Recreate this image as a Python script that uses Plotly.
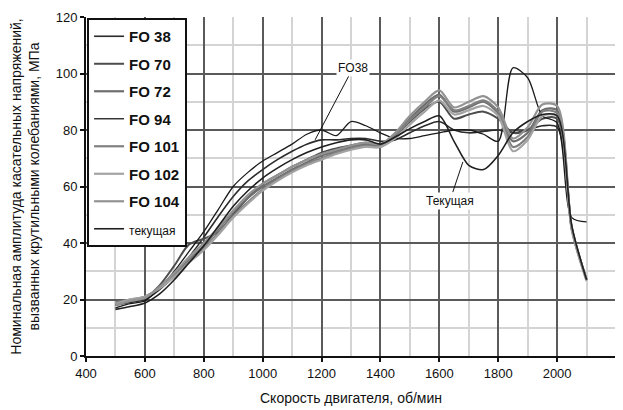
import plotly.graph_objects as go

rpm = [500, 550, 600, 650, 700, 750, 800, 850, 900, 950, 1000, 1050, 1100, 1150,
       1200, 1250, 1300, 1350, 1400, 1450, 1500, 1550, 1600, 1650, 1700, 1750,
       1800, 1850, 1900, 1950, 2000, 2050, 2100]

fo38 = [18, 19, 20, 23.5, 28.5, 35, 42, 49.5, 56.5, 62, 66, 69.5, 72.5, 75, 76.5, 76.5,
        77, 77, 76, 76.5, 79, 81.5, 83, 80, 79, 79.5, 80, 79, 80, 81.5, 81, 45, 27]
fo70 = [18.5, 19.5, 20.5, 25, 32, 39.5, 41.5, 44, 50, 56, 61, 64, 67, 69.5, 72, 73.5,
        74.5, 75.5, 74.5, 78, 83, 87.5, 90, 84, 85.5, 86.5, 84, 79, 80, 84, 84, 45.5, 27]
fo72 = [18, 19.5, 21, 24, 29, 34, 39, 45, 51, 56, 60, 63, 66, 68.5, 71, 72.5,
        74, 75, 74.5, 78.5, 84, 89, 92.5, 86.5, 88, 90, 86, 76, 79, 87, 87, 45, 27]
fo94 = [17, 18.5, 19.5, 24, 30, 37, 44, 52, 60, 65, 69, 72, 75, 78.5, 80, 78,
        83, 81.5, 79, 77, 77, 78, 79, 80, 80, 78.5, 76, 102, 98.5, 85, 82.5, 49, 47.5]
fo101 = [19, 20, 21, 24, 28.5, 33.5, 38, 43.5, 49.5, 54.5, 59, 62.5, 65.5, 68, 70, 72,
         73.5, 74.5, 74, 78, 83.5, 88, 92, 87, 88.5, 90.5, 86.5, 74, 77.5, 86.5, 86, 45, 27]
fo102 = [18.5, 20, 21, 24, 28, 33, 37.5, 43, 49, 54, 58.5, 62, 65, 67.5, 69.5, 71.5,
         73, 74, 74, 77, 82, 86.5, 90.5, 85.5, 87, 88.5, 85, 72.5, 76.5, 85, 85, 44.5, 26.5]
fo104 = [18, 19.5, 20.5, 24.5, 29.5, 35, 40, 45.5, 51.5, 57, 61, 64, 67, 69.5, 71.5, 73,
         74.5, 75.5, 75, 79, 85, 90, 94, 88, 90, 92, 88, 77, 81, 89, 88.5, 45, 27]
current = [16.5, 17.5, 18.8, 22, 27, 33, 39, 46, 53, 58.5, 63, 66.5, 69.5, 72, 74, 75.5,
           76.5, 76.5, 75, 77.5, 80.5, 83, 85, 76, 67.5, 66, 71, 79, 83, 85.5, 85, 46, 27]

series_names = ["FO 38", "FO 70", "FO 72", "FO 94", "FO 101", "FO 102", "FO 104", "текущая"]
series_values = [fo38, fo70, fo72, fo94, fo101, fo102, fo104, current]
series_colors = ["#2b2b2b", "#4d4d4d", "#6e6e6e", "#1a1a1a", "#808080", "#a3a3a3", "#939393", "#202020"]
series_widths = [1.6, 2.0, 2.2, 1.3, 2.2, 2.2, 2.2, 1.6]

FONT = "Liberation Sans, Arial, sans-serif"

fig = go.Figure()
for name, vals, col, w in zip(series_names, series_values, series_colors, series_widths):
    label = f"<b>{name}</b>" if name.startswith("FO") else f"<span style='font-size:12px'>{name}</span>"
    fig.add_trace(go.Scatter(
        x=rpm, y=vals, mode="lines", name=label, legendgroup=name,
        line=dict(color=col, width=w, shape="spline", smoothing=0.8),
    ))

fig.add_annotation(x=1178, y=76.5, ax=1307, ay=102, axref="x", ayref="y",
                   text="FO38", showarrow=True, arrowhead=0, arrowwidth=1,
                   arrowcolor="#111", bgcolor="white", font=dict(size=12, color="#111", family=FONT))
fig.add_annotation(x=1680, y=68.7, ax=1636, ay=55, axref="x", ayref="y",
                   text="Текущая", showarrow=True, arrowhead=0, arrowwidth=1,
                   arrowcolor="#111", bgcolor="white", font=dict(size=12, color="#111", family=FONT))

# page body adds an 8px offset; the figure is sized to fit the 623x410 window
fig.update_layout(
    width=615, height=402,
    margin=dict(l=78, r=7, t=9, b=54),
    paper_bgcolor="white", plot_bgcolor="white",
    font=dict(family=FONT, size=13, color="#111"),
    showlegend=True,
    legend=dict(x=0.002, y=0.997, xanchor="left", yanchor="top",
                bgcolor="white", bordercolor="#111", borderwidth=2,
                font=dict(family=FONT, size=15, color="#111"),
                tracegroupgap=5, itemwidth=30),
)
fig.update_xaxes(
    range=[400, 2200], dtick=200, tick0=400, automargin=False,
    showline=True, linecolor="#111", linewidth=2,
    ticks="outside", ticklen=4, tickcolor="#111", tickwidth=2,
    showgrid=True, gridcolor="#5a5a5a", gridwidth=1.5,
    minor=dict(dtick=100, showgrid=True, gridcolor="#d4d4d4", gridwidth=1.5),
    zeroline=False,
    title=dict(text="Скорость двигателя, об/мин", standoff=14, font=dict(size=14)),
    tickfont=dict(size=13),
)
fig.update_yaxes(
    range=[0, 120], dtick=20, automargin=False,
    showline=True, linecolor="#111", linewidth=2,
    ticks="outside", ticklen=4, tickcolor="#111", tickwidth=2,
    showgrid=True, gridcolor="#5a5a5a", gridwidth=1.5,
    minor=dict(dtick=10, showgrid=True, gridcolor="#d4d4d4", gridwidth=1.5),
    zeroline=False,
    title=dict(text="Номинальная амплитуда касательных напряжений,<br>вызванных крутильными колебаниями, МПа",
               standoff=21, font=dict(size=14)),
    tickfont=dict(size=13),
)

fig.write_html("out.html")
